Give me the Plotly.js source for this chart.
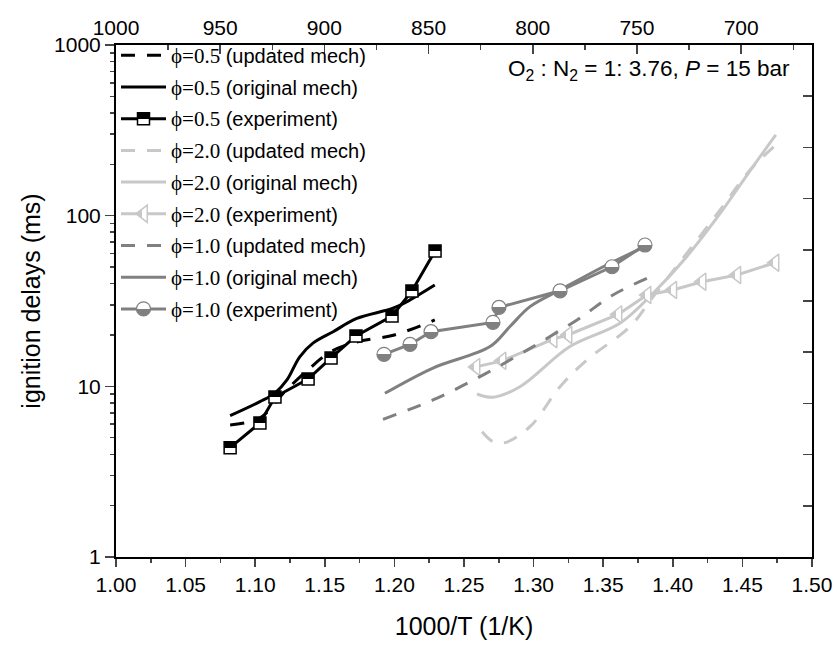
<!DOCTYPE html>
<html>
<head>
<meta charset="utf-8">
<script src="https://cdn.plot.ly/plotly-3.0.1.min.js"></script>
<style>html,body{margin:0;padding:0;background:#fff;}#chart{width:837px;height:646px;}</style>
</head>
<body>
<div id="chart"></div>
<script>
// phi = 0.5
const x05Upd = [1.082, 1.1034, 1.121, 1.138, 1.154, 1.173, 1.200, 1.229];
const y05Upd = [5.94, 6.52, 9.26, 12.5, 15.9, 18.2, 20.0, 24.5];
const x05Orig = [1.082, 1.1034, 1.114, 1.1228, 1.132, 1.1415, 1.156, 1.173, 1.199, 1.211, 1.229];
const y05Orig = [6.73, 8.13, 9.1, 10.9, 14.9, 17.9, 20.9, 25.0, 28.7, 32.0, 39.2];
const x05Exp = [1.082, 1.1034, 1.1142, 1.138, 1.1545, 1.1724, 1.1983, 1.2126, 1.2292];
const y05Exp = [4.37, 6.10, 8.66, 11.04, 14.66, 19.72, 25.8, 36.2, 62.1];
// phi = 2.0
const x20Upd = [1.263, 1.2709, 1.2795, 1.2974, 1.319, 1.3384, 1.3693, 1.3858, 1.410, 1.434, 1.4555, 1.474];
const y20Upd = [5.42, 4.74, 4.68, 5.80, 9.95, 14.3, 22.4, 33.5, 60.1, 108, 185, 260];
const x20Orig = [1.2593, 1.2709, 1.2902, 1.3261, 1.362, 1.3858, 1.410, 1.434, 1.4576, 1.474];
const y20Orig = [9.02, 8.63, 9.95, 17.1, 23.4, 35.1, 57.5, 103, 194, 297];
const x20Exp = [1.2586, 1.2773, 1.314, 1.3247, 1.3606, 1.3815, 1.400, 1.421, 1.446, 1.4734];
const y20Exp = [13.0, 14.1, 18.9, 20.0, 26.4, 34.3, 36.7, 41.0, 44.9, 53.0];
// phi = 1.0
const x10Upd = [1.1918, 1.2277, 1.2615, 1.2953, 1.3312, 1.357, 1.3815];
const y10Upd = [6.41, 8.32, 11.4, 16.3, 24.5, 34.3, 42.9];
const x10Orig = [1.1932, 1.2277, 1.2687, 1.283, 1.2974, 1.319, 1.350, 1.380];
const y10Orig = [9.1, 12.8, 17.1, 22.4, 29.3, 36.7, 50.2, 65.8];
const x10Exp = [1.1925, 1.2112, 1.2263, 1.2708, 1.2751, 1.319, 1.3563, 1.380];
const y10Exp = [15.4, 17.6, 20.9, 23.7, 29.0, 36.3, 50.2, 67.3];

const yTickVals = [1, 10, 100, 1000];
const yTickText = ['1', '10', '100', '1000'];
const yMinorVals = [2,3,4,5,6,7,8,9,20,30,40,50,60,70,80,90,200,300,400,500,600,700,800,900];

const BLACK = '#000000', MID = '#808080', LIGHT = '#c8c8c8';
const DASH = '14px,12px';
function lbl(phi, what) {
  return '<span style="font-family:Liberation Serif;font-size:21px">\u03D5=' + phi + '</span> (' + what + ')';
}
let g = 0;
function model(x, y, color, dash, name) {
  return {x: x, y: y, type: 'scatter', mode: 'lines', name: name, legendgroup: 'g' + (g++),
    line: {color: color, width: 3, dash: dash, shape: 'spline', smoothing: 1}};
}
function exp(x, y, color, name, marker) {
  return {x: x, y: y, type: 'scatter', mode: 'lines+markers', name: name, legendgroup: 'g' + (g++),
    line: {color: color, width: 3}, marker: marker};
}

const traces = [
  model(x05Upd, y05Upd, BLACK, DASH, lbl('0.5', 'updated mech')),
  model(x05Orig, y05Orig, BLACK, 'solid', lbl('0.5', 'original mech')),
  exp(x05Exp, y05Exp, BLACK, lbl('0.5', 'experiment'),
      {symbol: 'square', size: 12, color: BLACK, gradient: {type: 'vertical', color: '#ffffff'},
       line: {color: BLACK, width: 1.5}}),
  model(x20Upd, y20Upd, LIGHT, DASH, lbl('2.0', 'updated mech')),
  model(x20Orig, y20Orig, LIGHT, 'solid', lbl('2.0', 'original mech')),
  exp(x20Exp, y20Exp, LIGHT, lbl('2.0', 'experiment'),
      {symbol: 'triangle-left', size: 15, color: LIGHT, gradient: {type: 'horizontal', color: '#ffffff'},
       line: {color: LIGHT, width: 1.5}}),
  model(x10Upd, y10Upd, MID, DASH, lbl('1.0', 'updated mech')),
  model(x10Orig, y10Orig, MID, 'solid', lbl('1.0', 'original mech')),
  exp(x10Exp, y10Exp, MID, lbl('1.0', 'experiment'),
      {symbol: 'circle', size: 14, color: '#ffffff', gradient: {type: 'vertical', color: MID},
       line: {color: MID, width: 1.2}}),
  // empty helper traces so the top (temperature) and right axes get drawn
  {x: [], y: [], type: 'scatter', mode: 'lines', xaxis: 'x2', yaxis: 'y', showlegend: false, hoverinfo: 'skip'},
  {x: [], y: [], type: 'scatter', mode: 'lines', xaxis: 'x', yaxis: 'y3', showlegend: false, hoverinfo: 'skip'}
];

const FONT = 'Liberation Sans, Arial, sans-serif';
const layout = {
  width: 837, height: 646,
  margin: {l: 116, r: 25, t: 45, b: 89},
  paper_bgcolor: '#ffffff', plot_bgcolor: '#ffffff',
  font: {family: FONT, color: '#000000'},
  showlegend: true,
  legend: {x: 0, y: 1.018, xanchor: 'left', yanchor: 'top', bgcolor: 'rgba(0,0,0,0)',
    font: {family: FONT, size: 20, color: '#000'}, tracegroupgap: 2.7, traceorder: 'grouped', itemwidth: 45},
  xaxis: {range: [1.0, 1.5], dtick: 0.05, tick0: 1.0, tickformat: '.2f',
    ticks: 'outside', ticklen: 8, tickwidth: 1.5, showline: true, linewidth: 2, linecolor: '#000',
    showgrid: false, zeroline: false, tickfont: {size: 21},
    minor: {dtick: 0.025, ticks: 'outside', ticklen: 4, tickwidth: 1.5, showgrid: false},
    title: {text: '1000/T (1/K)', font: {size: 25}, standoff: 22}},
  xaxis2: {overlaying: 'x', side: 'top', anchor: 'y', range: [1000, 666], dtick: 50, tick0: 1000,
    ticks: 'inside', ticklen: 9, tickwidth: 1.5, showline: true, linewidth: 2, linecolor: '#000',
    showgrid: false, zeroline: false, tickfont: {size: 21},
    minor: {dtick: 25, ticks: 'inside', ticklen: 5, tickwidth: 1.5, showgrid: false}},
  yaxis: {type: 'log', range: [0, 3], tickmode: 'array', tickvals: yTickVals, ticktext: yTickText,
    ticks: 'outside', ticklen: 9, tickwidth: 1.5, showline: true, linewidth: 2, linecolor: '#000',
    showgrid: false, zeroline: false, tickfont: {size: 21},
    minor: {tickmode: 'array', tickvals: yMinorVals, ticks: 'outside', ticklen: 4, tickwidth: 1.5, showgrid: false},
    title: {text: 'ignition delays (ms)', font: {size: 25}, standoff: 6}},
  yaxis3: {overlaying: 'y', side: 'right', anchor: 'x', range: [0, 10], dtick: 1,
    ticks: 'inside', ticklen: 9, tickwidth: 1.5, showticklabels: false, showline: true, linewidth: 2,
    linecolor: '#000', showgrid: false, zeroline: false},
  annotations: [{xref: 'paper', yref: 'paper', x: 0.971, y: 0.951, xanchor: 'right', yanchor: 'middle',
    showarrow: false, font: {family: FONT, size: 22.5, color: '#000'},
    text: 'O<sub>2</sub> : N<sub>2</sub> = 1: 3.76, <i>P</i> = 15 bar'}]
};

Plotly.newPlot('chart', traces, layout, {displayModeBar: false, staticPlot: true}).then(function (gd) {
  // turn the two-stop marker gradients into hard half-and-half fills
  gd.querySelectorAll('linearGradient').forEach(function (lg) {
    const stops = lg.querySelectorAll('stop');
    if (stops.length !== 2) return;
    const c0 = stops[0].getAttribute('stop-color'), c1 = stops[1].getAttribute('stop-color');
    const o0 = stops[0].getAttribute('stop-opacity'), o1 = stops[1].getAttribute('stop-opacity');
    while (lg.firstChild) lg.removeChild(lg.firstChild);
    [[0, c0, o0], [0.5, c0, o0], [0.5, c1, o1], [1, c1, o1]].forEach(function (s) {
      const st = document.createElementNS('http://www.w3.org/2000/svg', 'stop');
      st.setAttribute('offset', s[0]);
      st.setAttribute('stop-color', s[1]);
      if (s[2] !== null) st.setAttribute('stop-opacity', s[2]);
      lg.appendChild(st);
    });
  });
});
</script>
</body>
</html>
